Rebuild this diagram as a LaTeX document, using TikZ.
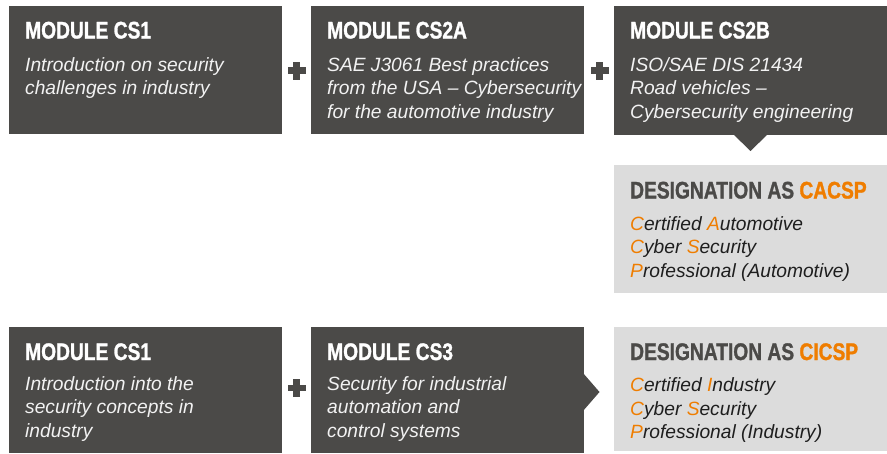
\documentclass[tikz,border=0pt]{standalone}
\usepackage{fontspec}
\setmainfont{Liberation Sans}
\newfontfamily\titlefont{Liberation Sans}[FakeStretch=0.8, BoldFeatures={FakeBold=1.2}]
\usetikzlibrary{calc}
\definecolor{darkbox}{HTML}{4B4A48}
\definecolor{lightbox}{HTML}{DCDCDC}
\definecolor{orng}{HTML}{EF7D00}
\definecolor{bodywhite}{HTML}{F2F2F2}
\definecolor{bodydark}{HTML}{1E1E1E}
\newcommand{\ol}[1]{{\color{orng}#1}}
\newcommand{\stack}[1]{\vtop{\baselineskip=23.5pt\halign{##\hfil\cr#1\crcr}}}
\begin{document}
\begin{tikzpicture}[x=1pt,y=-1pt,
  darkrect/.style={fill=darkbox,draw=none},
  lightrect/.style={fill=lightbox,draw=none},
  titletxt/.style={anchor=base west,inner sep=0pt,font=\titlefont\bfseries\fontsize{24}{24}\selectfont},
  bodytxt/.style={anchor=base west,inner sep=0pt,font=\itshape\fontsize{19.2}{23.5}\selectfont},
  plusbar/.style={fill=darkbox,draw=none}]
\useasboundingbox (0,0) rectangle (887,453);

% boxes
\path[darkrect] (9,6) rectangle (282,134) coordinate (b1);
\path[darkrect] (311,6) rectangle (584,134) coordinate (b2);
\path[darkrect] (614,6) rectangle (887,135) coordinate (b3);
\path[darkrect] (733,134) -- (768,134) -- (750.5,151) -- cycle;
\path[lightrect] (614,165) rectangle (887,293);

\path[darkrect] (9,327) rectangle (282,453);
\path[darkrect] (311,327) rectangle (584,453);
\path[darkrect] (583,373) -- (599.5,392) -- (583,411) -- cycle;
\path[lightrect] (614,327) rectangle (887,451);

% plus signs
\foreach \cx/\cy in {296.5/70.5, 599.5/70.5, 296.5/388} {
  \path[plusbar] (\cx-9,\cy-3.2) rectangle (\cx+9,\cy+3.2);
  \path[plusbar] (\cx-3.2,\cy-9) rectangle (\cx+3.2,\cy+9);
}

% texts top row
\node[titletxt,text=white] (t1) at (25,38.5) {MODULE CS1};
\node[bodytxt,text=bodywhite] (d1) at (25,71) {\stack{Introduction on security\cr challenges in industry}};

\node[titletxt,text=white] (t2) at (327,38.5) {MODULE CS2A};
\node[bodytxt,text=bodywhite] (d2) at (327,71) {\stack{SAE J3061 Best practices\cr from the USA -- Cybersecurity\cr for the automotive industry}};

\node[titletxt,text=white] (t3) at (630,38.5) {MODULE CS2B};
\node[bodytxt,text=bodywhite] (d3) at (630,71) {\stack{ISO/SAE DIS 21434\cr Road vehicles --\cr Cybersecurity engineering}};

\node[titletxt,text=darkbox] (t4) at (630,198.5) {DESIGNATION AS \ol{CACSP}};
\node[bodytxt,text=bodydark] (d4) at (630,230) {\stack{\ol{C}ertified \ol{A}utomotive\cr \ol{C}yber \ol{S}ecurity\cr \ol{P}rofessional (Automotive)}};

% texts bottom row
\node[titletxt,text=white] (t5) at (25,360) {MODULE CS1};
\node[bodytxt,text=bodywhite] (d5) at (25,390) {\stack{Introduction into the\cr security concepts in\cr industry}};

\node[titletxt,text=white] (t6) at (327,360) {MODULE CS3};
\node[bodytxt,text=bodywhite] (d6) at (327,390) {\stack{Security for industrial\cr automation and\cr control systems}};

\node[titletxt,text=darkbox] (t7) at (630,360) {DESIGNATION AS \ol{CICSP}};
\node[bodytxt,text=bodydark] (d7) at (630,391.5) {\stack{\ol{C}ertified \ol{I}ndustry\cr \ol{C}yber \ol{S}ecurity\cr \ol{P}rofessional (Industry)}};
\end{tikzpicture}
\end{document}
